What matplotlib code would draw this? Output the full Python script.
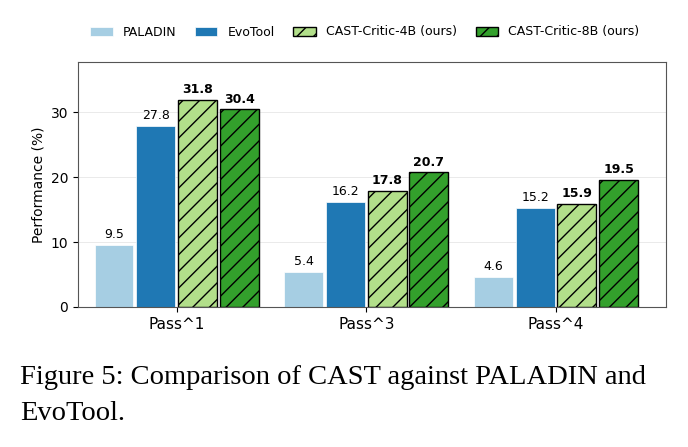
import numpy as np
import matplotlib.pyplot as plt

# datos del grafico
grupos = ['Pass^1', 'Pass^3', 'Pass^4']
series = ['PALADIN', 'EvoTool', 'CAST-Critic-4B (ours)', 'CAST-Critic-8B (ours)']
paladin = [9.5, 5.4, 4.6]
evotool = [27.8, 16.2, 15.2]
critic4b = [31.8, 17.8, 15.9]
critic8b = [30.4, 20.7, 19.5]

valores = [paladin, evotool, critic4b, critic8b]
colores = ['#a6cee3', '#1f78b4', '#b2df8a', '#33a02c']
tramas = [None, None, '//', '//']
negrita = [False, False, True, True]

fig = plt.figure(figsize=(6.88, 4.47), dpi=100)
ax = fig.add_axes([78/688, 1-307/447, (666-78)/688, (307-62)/447])

x = np.arange(len(grupos))
ancho = 0.205
paso = 0.22
for i, (nombre, v) in enumerate(zip(series, valores)):
    pos = x + (i - 1.5) * paso
    if tramas[i]:
        barras = ax.bar(pos, v, ancho, color=colores[i], edgecolor='black',
                        linewidth=1.0, hatch=tramas[i], label=nombre, zorder=2)
    else:
        barras = ax.bar(pos, v, ancho, color=colores[i], edgecolor='white',
                        linewidth=0.5, label=nombre, zorder=2)
    for b, val in zip(barras, v):
        ax.text(b.get_x() + b.get_width()/2, val + 0.6, f'{val:.1f}',
                ha='center', va='bottom', fontsize=9,
                fontweight='bold' if negrita[i] else 'normal')

ax.set_xlim(-0.52, 2.58)
ax.set_ylim(0, 37.7)
ax.set_yticks([0, 10, 20, 30])
ax.set_xticks(x)
ax.set_xticklabels(grupos, fontsize=11)
ax.tick_params(axis='y', labelsize=10)
ax.set_ylabel('Performance (%)', fontsize=10)
ax.grid(axis='y', color='#e6e6e6', linewidth=0.6, zorder=0)
for s in ax.spines.values():
    s.set_color('#555555')
    s.set_linewidth(0.8)

fig.legend(loc='center', bbox_to_anchor=(0.53, 1-32/447), ncol=4, frameon=False,
           fontsize=9, handlelength=1.8, columnspacing=1.5)

fig.text(20/688, 1-378/447, 'Figure 5: Comparison of CAST against PALADIN and',
         family='Liberation Serif', fontsize=20.5, va='center')
fig.text(20/688, 1-413/447, 'EvoTool.',
         family='Liberation Serif', fontsize=20.5, va='center')

fig.savefig('out.png', dpi=100)
